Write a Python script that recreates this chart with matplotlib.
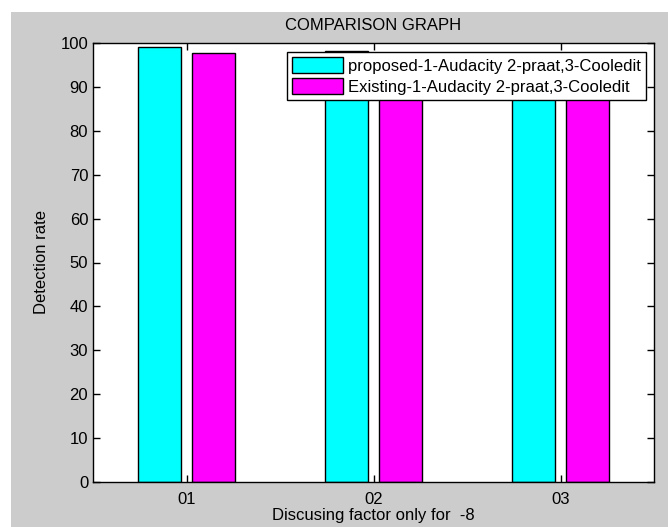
import matplotlib
matplotlib.use("Agg")
import matplotlib.pyplot as plt
from matplotlib.patches import Rectangle
import numpy as np

plt.rcParams['font.family'] = ['Liberation Sans', 'DejaVu Sans']

groups = ['01', '02', '03']
proposed = [99.2, 98.2, 97.5]
existing = [97.7, 96.5, 95.5]
labels = ['proposed-1-Audacity 2-praat,3-Cooledit',
          'Existing-1-Audacity 2-praat,3-Cooledit']

W, H = 668, 527
fig = plt.figure(figsize=(W / 100, H / 100), dpi=100, facecolor='white')
# grey MATLAB-style figure panel (the screenshot has a white margin top/left)
fig.patches.append(Rectangle((11 / W, 0), 1 - 11 / W, 1 - 12 / H,
                             transform=fig.transFigure, facecolor='#cccccc',
                             edgecolor='none', zorder=-10))

ax = fig.add_axes([93 / W, 1 - 482 / H, (654 - 93) / W, (482 - 43) / H])
x = np.arange(1, len(groups) + 1)
w = 0.23
ax.bar(x - 0.145, proposed, w, color='#00ffff', edgecolor='black', linewidth=1, label=labels[0])
ax.bar(x + 0.145, existing, w, color='#ff00ff', edgecolor='black', linewidth=1, label=labels[1])

ax.set_xlim(0.5, 3.5)
ax.set_ylim(0, 100)
ax.set_yticks(np.arange(0, 101, 10))
ax.set_xticks(x)
ax.set_xticklabels(groups)
ax.tick_params(direction='in', top=True, right=True, labelsize=12, length=5, width=1)
ax.tick_params(axis='x', pad=7)
for s in ax.spines.values():
    s.set_linewidth(1)

ax.set_title('COMPARISON GRAPH', fontsize=12, pad=9)
# the reference clips this label at the bottom edge; keep it just inside
ax.set_xlabel('Discusing factor only for  -8', fontsize=12, labelpad=1)
ax.set_ylabel('Detection rate', fontsize=12, labelpad=8)

leg = ax.legend(loc='upper right', bbox_to_anchor=(0.986, 0.979), fontsize=12,
                fancybox=False, framealpha=1, edgecolor='black', handlelength=3.1,
                handleheight=1.1, borderaxespad=0, borderpad=0.3, labelspacing=0.25,
                handletextpad=0.3)
leg.get_frame().set_linewidth(1)

fig.savefig('out.png', dpi=100, facecolor=fig.get_facecolor())
